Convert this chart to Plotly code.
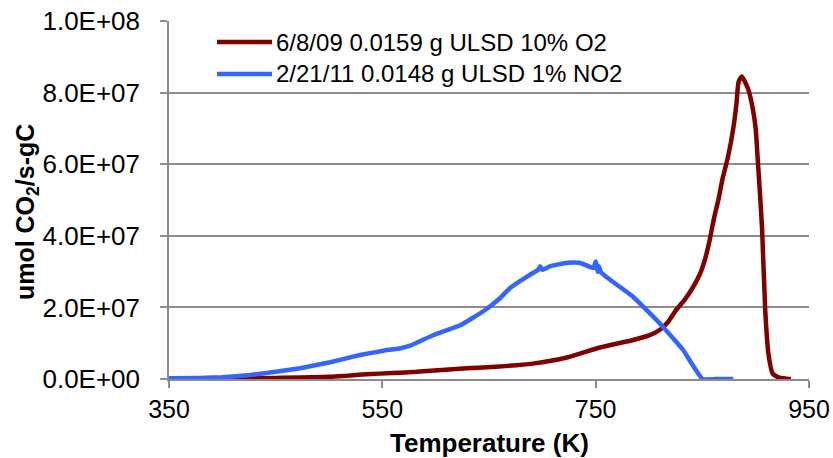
import plotly.graph_objects as go

# ---- data ----
red_name = "6/8/09 0.0159 g ULSD 10% O2"
red_T = [350, 400, 450, 500, 535, 560, 582, 629, 660, 691, 723, 754, 785, 800, 810, 818, 826, 833,
         840, 848, 853, 857, 861, 865, 869, 874, 879, 882, 884, 887, 890, 893, 897, 900, 902, 904,
         906, 909, 912, 916, 922, 929, 933]
red_v = [0, 1e5, 3e5, 6e5, 1.3e6, 1.7e6, 2.0e6, 3.0e6, 3.5e6, 4.3e6, 6.0e6, 8.8e6, 1.09e7, 1.22e7,
         1.37e7, 1.6e7, 1.95e7, 2.2e7, 2.5e7, 2.95e7, 3.4e7, 3.9e7, 4.5e7, 5.0e7, 5.6e7, 6.2e7,
         7.0e7, 7.7e7, 8.3e7, 8.45e7, 8.3e7, 8.1e7, 7.6e7, 7.0e7, 6.1e7, 5.2e7, 4.2e7, 1.9e7, 7e6,
         1.5e6, 4e5, 1e5, 0]

blue_name = "2/21/11 0.0148 g ULSD 1% NO2"
blue_T = [350, 380, 400, 426, 450, 473, 501, 529, 551, 567, 576, 598, 623, 645, 660, 670, 686,
          696, 698, 700, 707, 723, 735, 748, 750, 752, 753, 755, 760, 785, 810, 832, 850, 865, 879]
blue_v = [2e5, 3e5, 5e5, 1.1e6, 2.0e6, 3.0e6, 4.7e6, 6.7e6, 7.9e6, 8.6e6, 9.3e6, 1.23e7, 1.5e7,
          1.9e7, 2.25e7, 2.55e7, 2.87e7, 3.05e7, 3.15e7, 3.05e7, 3.15e7, 3.25e7, 3.25e7, 3.1e7,
          3.28e7, 3.0e7, 3.15e7, 2.98e7, 2.85e7, 2.3e7, 1.56e7, 8.1e6, 0, 0, 0]

x_ticks = [350, 550, 750, 950]
y_ticks = [0, 2e7, 4e7, 6e7, 8e7, 1e8]
y_ticktext = ["0.0E+00", "2.0E+07", "4.0E+07", "6.0E+07", "8.0E+07", "1.0E+08"]

red_color = "#800000"
blue_color = "#3366FF"
grid_color = "#8C8C8C"
font_family = "Liberation Sans, Arial, sans-serif"

fig = go.Figure()
fig.add_trace(go.Scatter(x=red_T, y=red_v, mode="lines", name=red_name,
                         line=dict(color=red_color, width=4.5, shape="spline", smoothing=0.6),
                         showlegend=False))
fig.add_trace(go.Scatter(x=blue_T, y=blue_v, mode="lines", name=blue_name,
                         line=dict(color=blue_color, width=4.5, shape="spline", smoothing=0.3),
                         showlegend=False))

# manual legend (lines + text)
leg = [(red_name, red_color, 0.941), (blue_name, blue_color, 0.852)]
for name, col, yy in leg:
    fig.add_shape(type="line", xref="paper", yref="paper", x0=0.075, x1=0.161, y0=yy, y1=yy,
                  line=dict(color=col, width=4.5))
    fig.add_annotation(xref="paper", yref="paper", x=0.164, y=yy, text=name, showarrow=False,
                       xanchor="left", yanchor="middle",
                       font=dict(family=font_family, size=24, color="#000"))

# axis titles as annotations for exact placement
fig.add_annotation(xref="paper", yref="paper", x=0.5, y=-0.179, text="<b>Temperature (K)</b>",
                   showarrow=False, xanchor="center", yanchor="middle",
                   font=dict(family=font_family, size=26, color="#000"))
fig.add_annotation(xref="paper", yref="paper", x=-0.222, y=0.466,
                   text="<b>umol CO<sub>2</sub>/s-gC</b>", textangle=-90,
                   showarrow=False, xanchor="center", yanchor="middle",
                   font=dict(family=font_family, size=25, color="#000"))

fig.update_layout(
    width=833, height=458,
    margin=dict(l=169, r=24, t=21, b=79),
    paper_bgcolor="white", plot_bgcolor="white",
    font=dict(family=font_family, size=24, color="#000"),
    xaxis=dict(range=[350, 950], tickvals=x_ticks, ticktext=[str(v) for v in x_ticks],
               showgrid=False, zeroline=False, showline=True, linecolor=grid_color, linewidth=1.5,
               ticks="outside", ticklen=7, tickcolor=grid_color, tickwidth=1.5,
               tickfont=dict(size=25), ticklabeloverflow="allow", automargin=False),
    yaxis=dict(range=[0, 1.0003e8], tickvals=y_ticks, ticktext=y_ticktext,
               showgrid=True, gridcolor=grid_color, gridwidth=1.5, zeroline=False,
               showline=True, linecolor=grid_color, linewidth=1.5,
               ticks="outside", ticklen=7, tickcolor=grid_color, tickwidth=1.5,
               tickfont=dict(size=26), ticklabelstandoff=15, ticklabeloverflow="allow",
               automargin=False),
)

# remove the browser's default 8px body margin so the figure fills the window exactly
fig.write_html("out.html", config={"displayModeBar": False},
               post_script="document.body.style.margin='0';document.body.style.overflow='hidden';")
